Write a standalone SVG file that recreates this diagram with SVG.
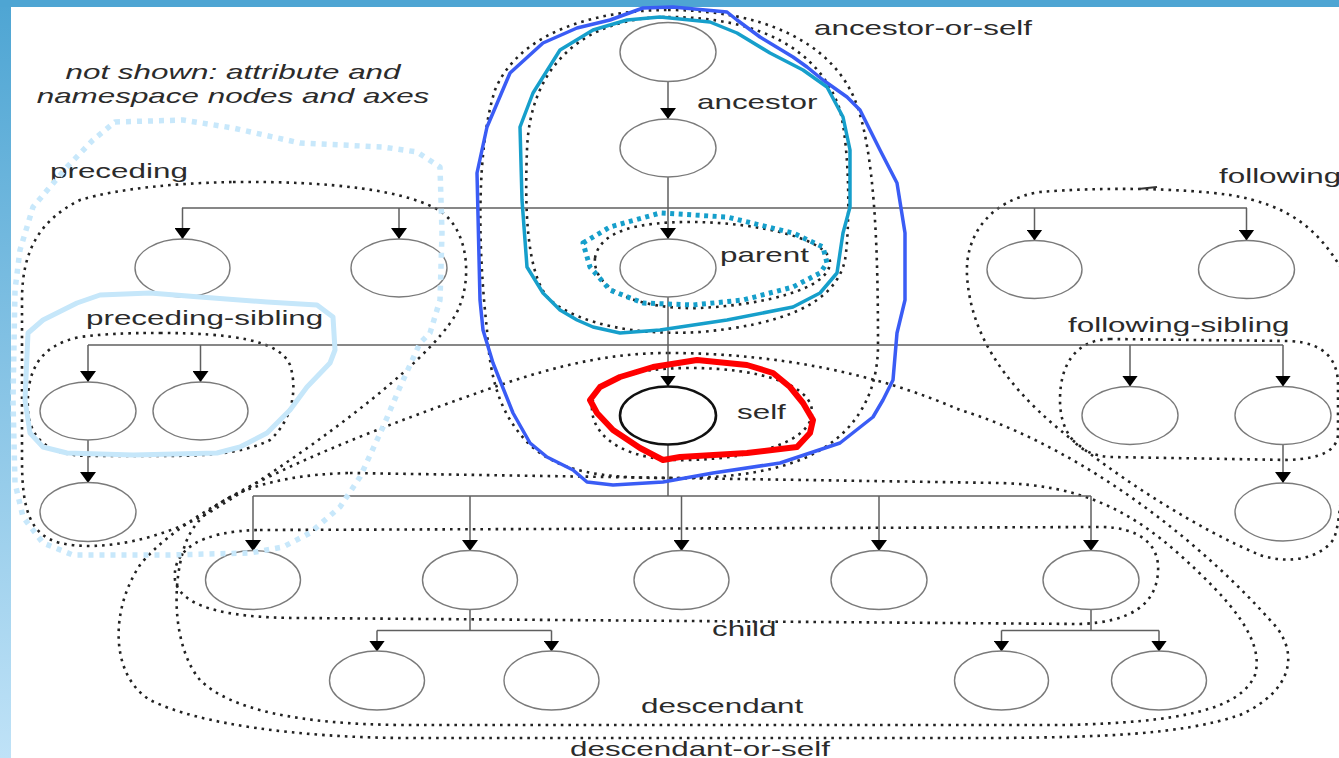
<svg xmlns="http://www.w3.org/2000/svg" width="1339" height="758" viewBox="0 0 1339 758">
<defs>
<linearGradient id="side" x1="0" y1="0" x2="0" y2="1">
<stop offset="0" stop-color="#4ea5d3"/>
<stop offset="1" stop-color="#bfe2f7"/>
</linearGradient>
<marker id="arr" viewBox="0 0 11 16" refX="11" refY="8" markerWidth="11" markerHeight="16" markerUnits="userSpaceOnUse" orient="auto">
<path d="M0,0 L11,8 L0,16 Z" fill="#000"/>
</marker>
<style>
.lbl{font-family:"Liberation Sans",Arial,sans-serif;font-size:20px;fill:#2b2b2b}
.it{font-style:italic;text-anchor:middle}
.node{fill:#fff;stroke:#7a7a7a;stroke-width:1.4}
.self{fill:#fff;stroke:#111;stroke-width:2.6}
.con{fill:none;stroke:#5f5f5f;stroke-width:1.5}
.arw{marker-end:url(#arr)}
.dot{fill:none;stroke:#222;stroke-width:2.6;stroke-dasharray:2.6 5}
.hl{fill:none;stroke-linejoin:round;stroke-linecap:round}
</style>
</defs>
<rect x="0" y="0" width="1339" height="758" fill="#fff"/>
<rect x="0" y="0" width="11" height="758" fill="url(#side)"/>
<rect x="0" y="0" width="1339" height="7" fill="#4ea5d3"/>

<g id="regions">
<path id="r-ancestor-or-self" class="dot" d="M668,10 C760,10 830,40 855,100 C875,150 878,250 878,345 C878,400 850,440 800,460 C760,475 720,478 668,478 C600,478 560,472 530,445 C500,415 490,380 487,330 C478,250 476,150 495,90 C520,30 600,10 668,10 Z"/>
<path id="r-ancestor" class="dot" d="M668,17 C760,17 820,50 840,110 C850,150 850,230 845,260 C835,305 780,325 700,332 C640,336 580,325 550,300 C525,275 525,200 527,150 C530,60 590,17 668,17 Z"/>
<path id="r-parent" class="dot" d="M595,258 C600,230 640,222 690,222 C760,222 830,240 830,262 C830,290 760,305 700,308 C640,310 592,290 595,258 Z"/>
<path id="r-self" class="dot" d="M592,410 C590,380 630,368 690,368 C760,368 812,385 812,412 C812,440 760,458 690,460 C630,462 594,440 592,410 Z"/>
<path id="r-descendant-or-self" class="dot" d="M668,353 C780,353 880,375 960,410 C1060,440 1180,520 1270,620 C1300,650 1295,690 1240,715 C1180,735 1100,737 1000,738 L400,738 C300,737 200,725 150,700 C110,675 110,610 140,565 C200,490 400,420 500,385 C560,365 610,353 668,353 Z"/>
<path id="r-descendant" class="dot" d="M350,473 L1000,483 C1080,485 1130,510 1180,555 C1230,600 1265,640 1255,675 C1240,710 1180,722 1067,725 L400,725 C300,724 230,710 200,680 C175,650 170,590 185,545 C200,500 260,475 350,473 Z"/>
<path id="r-child" class="dot" d="M260,530 L1100,527 C1140,527 1160,545 1158,572 C1156,605 1130,622 1080,624 L300,618 C220,618 180,605 175,580 C172,550 200,531 260,530 Z"/>
<path id="r-preceding" class="dot" d="M233,182 C330,181 410,190 443,213 C470,235 470,280 460,305 C445,350 320,445 210,512 C160,540 100,552 60,543 C30,535 22,510 22,460 L22,300 C22,250 40,220 80,200 C120,188 180,183 233,182 Z"/>
<path id="r-preceding-sibling" class="dot" d="M160,333 C230,333 280,340 290,365 C298,390 292,420 270,440 C240,455 200,456 160,456 L90,456 C50,456 30,440 28,410 C26,370 40,345 80,337 C110,333 140,333 160,333 Z"/>
<path id="r-following-sibling" class="dot" d="M1110,339 L1290,341 C1325,343 1338,360 1338,385 L1338,435 C1336,452 1320,458 1290,460 L1110,457 C1075,455 1060,430 1060,400 C1060,365 1075,340 1110,339 Z"/>
<path id="r-following" class="dot" d="M1345,275 C1320,230 1290,205 1230,195 C1180,188 1100,187 1040,192 C990,200 965,235 967,275 C970,330 1000,380 1060,430 C1120,480 1200,530 1260,555 C1290,565 1320,558 1333,540 C1345,520 1345,400 1345,290"/>
<path d="M1138,189 L1157,187" fill="none" stroke="#333" stroke-width="2"/>
</g>

<g id="connectors">
<path class="con arw" d="M668,81.5 V119"/>
<path class="con arw" d="M668,177 V239"/>
<path class="con" d="M182,208 H1247"/>
<path class="con arw" d="M182.5,208 V239"/>
<path class="con arw" d="M399,208 V239"/>
<path class="con arw" d="M1034.5,208 V240.5"/>
<path class="con arw" d="M1246.5,208 V240.5"/>
<path class="con arw" d="M668,297 V386.5"/>
<path class="con" d="M88,345 H1283"/>
<path class="con arw" d="M88,345 V382"/>
<path class="con arw" d="M200.5,345 V382"/>
<path class="con arw" d="M1130,345 V386.5"/>
<path class="con arw" d="M1283,345 V386.5"/>
<path class="con arw" d="M88,440 V483"/>
<path class="con arw" d="M1283,444.5 V483"/>
<path class="con" d="M668,444.5 V496"/>
<path class="con" d="M253,496 H1091"/>
<path class="con arw" d="M253,496 V551"/>
<path class="con arw" d="M470,496 V551"/>
<path class="con arw" d="M681.5,496 V551"/>
<path class="con arw" d="M879,496 V551"/>
<path class="con arw" d="M1091,496 V551"/>
<path class="con" d="M470,609 V630.5 M377,630.5 H551.5"/>
<path class="con arw" d="M377,630.5 V651.5"/>
<path class="con arw" d="M551.5,630.5 V651.5"/>
<path class="con" d="M1091,609 V630.5 M1001.5,630.5 H1159"/>
<path class="con arw" d="M1001.5,630.5 V651.5"/>
<path class="con arw" d="M1159,630.5 V651.5"/>
</g>

<g id="n-anc1"><ellipse class="node" cx="668" cy="52" rx="48" ry="29.5"/></g>
<g id="n-anc2"><ellipse class="node" cx="668" cy="148" rx="48" ry="29"/></g>
<g id="n-parent"><ellipse class="node" cx="668" cy="268" rx="48" ry="29"/></g>
<g id="n-self"><ellipse class="self" cx="668" cy="415.5" rx="48" ry="29"/></g>
<g id="n-prec1"><ellipse class="node" cx="182.5" cy="268" rx="47.5" ry="29"/></g>
<g id="n-prec2"><ellipse class="node" cx="399" cy="268" rx="48" ry="29"/></g>
<g id="n-foll1"><ellipse class="node" cx="1034.5" cy="269.5" rx="47.5" ry="29"/></g>
<g id="n-foll2"><ellipse class="node" cx="1246.5" cy="269.5" rx="48" ry="29"/></g>
<g id="n-psib1"><ellipse class="node" cx="88" cy="411" rx="48" ry="29"/></g>
<g id="n-psib2"><ellipse class="node" cx="200.5" cy="411" rx="47.5" ry="29"/></g>
<g id="n-psib1c"><ellipse class="node" cx="88" cy="512" rx="48" ry="29.5"/></g>
<g id="n-fsib1"><ellipse class="node" cx="1130" cy="415.5" rx="48" ry="29"/></g>
<g id="n-fsib2"><ellipse class="node" cx="1283" cy="415.5" rx="48" ry="29"/></g>
<g id="n-fsib2c"><ellipse class="node" cx="1283" cy="512" rx="48" ry="29"/></g>
<g id="n-child1"><ellipse class="node" cx="253" cy="580" rx="47.5" ry="29.5"/></g>
<g id="n-child2"><ellipse class="node" cx="470" cy="580" rx="47.5" ry="29.5"/></g>
<g id="n-child3"><ellipse class="node" cx="681.5" cy="580" rx="47.5" ry="29.5"/></g>
<g id="n-child4"><ellipse class="node" cx="879" cy="580" rx="48" ry="29.5"/></g>
<g id="n-child5"><ellipse class="node" cx="1091" cy="580" rx="48" ry="29.5"/></g>
<g id="n-gc1"><ellipse class="node" cx="377" cy="680.5" rx="47.5" ry="29.5"/></g>
<g id="n-gc2"><ellipse class="node" cx="551.5" cy="680.5" rx="47.5" ry="29.5"/></g>
<g id="n-gc3"><ellipse class="node" cx="1001.5" cy="680.5" rx="47" ry="29.5"/></g>
<g id="n-gc4"><ellipse class="node" cx="1159" cy="680.5" rx="47.5" ry="29.5"/></g>

<g id="labels">
<text class="lbl it" transform="translate(233,79) scale(1.57,1)">not shown: attribute and</text>
<text class="lbl it" transform="translate(233,103) scale(1.57,1)">namespace nodes and axes</text>
<text class="lbl" transform="translate(814,35) scale(1.57,1)">ancestor-or-self</text>
<text class="lbl" transform="translate(697,109) scale(1.57,1)">ancestor</text>
<text class="lbl" transform="translate(720,262) scale(1.57,1)">parent</text>
<text class="lbl" transform="translate(737,419) scale(1.57,1)">self</text>
<text class="lbl" transform="translate(50,178) scale(1.57,1)">preceding</text>
<text class="lbl" transform="translate(86,325) scale(1.57,1)">preceding-sibling</text>
<text class="lbl" transform="translate(1219,183) scale(1.57,1)">following</text>
<text class="lbl" transform="translate(1068,332) scale(1.57,1)">following-sibling</text>
<text class="lbl" transform="translate(712,636) scale(1.57,1)">child</text>
<text class="lbl" transform="translate(641,713) scale(1.57,1)">descendant</text>
<text class="lbl" transform="translate(570,756) scale(1.57,1)">descendant-or-self</text>
</g>

<g id="highlights">
<polygon id="h-preceding" class="hl" stroke="#c8e8fb" stroke-width="5.5" stroke-dasharray="5 6" style="stroke-linecap:butt" points="115,122 183,120 233,128 300,143 383,147 417,152 440,167 442,233 440,300 430,333 420,343 400,387 383,427 360,477 340,507 310,533 283,547 250,553 167,555 73,555 43,543 23,517 15,483 13,400 15,290 20,250 33,207 50,187 67,167 93,140"/>
<polygon id="h-preceding-sibling" class="hl" stroke="#c6e7fa" stroke-width="5" points="43,320 77,303 100,295 150,293 200,297 267,302 317,305 333,317 335,350 330,363 307,387 290,410 267,433 240,447 217,453 133,455 67,453 43,447 30,433 25,400 28,333"/>
<polygon id="h-ancestor-or-self" class="hl" stroke="#3a5cf5" stroke-width="3.5" points="673,7 727,12 737,20 760,37 793,57 807,67 823,80 847,97 860,110 880,150 897,183 905,233 905,300 897,333 893,380 883,400 873,417 840,443 780,463 713,473 663,482 613,485 587,482 573,470 547,457 530,443 513,413 493,363 483,330 480,300 477,173 487,127 510,73 543,43 577,28 610,20 643,8"/>
<polygon id="h-ancestor" class="hl" stroke="#169fcb" stroke-width="3.5" points="660,17 710,22 737,33 770,53 803,70 827,87 843,117 850,150 850,207 843,233 837,273 820,293 793,307 727,320 660,330 620,333 593,327 577,320 560,310 543,293 527,267 522,200 520,127 533,93 560,50 593,30 627,20"/>
<polygon id="h-parent" class="hl" stroke="#169fcb" stroke-width="5" stroke-dasharray="4 4.5" style="stroke-linecap:butt" points="583,243 610,227 660,213 727,217 793,233 823,247 827,263 820,273 793,287 743,300 693,305 643,303 610,290 590,267"/>
<polygon id="h-self" class="hl" stroke="#ff0000" stroke-width="6" points="590,400 600,387 620,377 653,367 697,360 747,365 773,373 790,387 803,403 813,420 810,433 797,447 747,453 680,457 663,460 640,448 613,430 597,413"/>
</g>
</svg>
